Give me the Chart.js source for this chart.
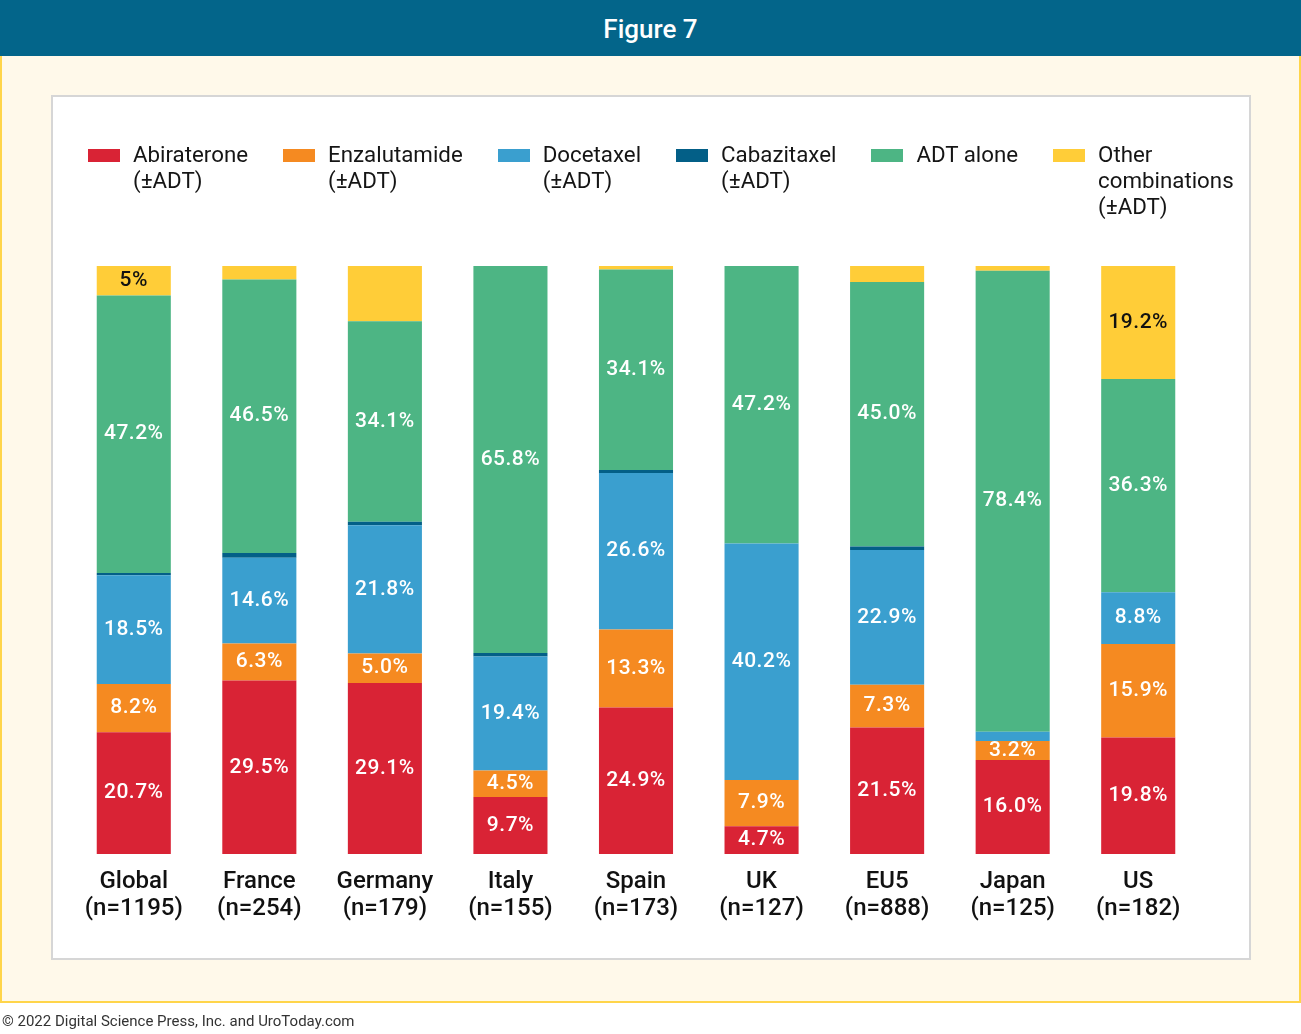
<!DOCTYPE html>
<html>
<head>
<meta charset="utf-8">
<script src="https://cdn.jsdelivr.net/npm/chart.js@4.4.1/dist/chart.umd.min.js"></script>
<style>
  body { margin: 0; width: 1301px; height: 1034px; position: relative; overflow: hidden; background: #fff; font-family: Roboto, sans-serif; }
  #header { position: absolute; left: 0; top: 0; width: 1301px; height: 56px; background: #03658a; color: #fff; font-size: 26px; font-weight: 500; text-align: center; line-height: 58px; }
  #frame { position: absolute; left: 0; top: 56px; width: 1297px; height: 945px; background: #fff9ea; border: 2px solid #ffd54a; border-top: none; }
  #panel { position: absolute; left: 51px; top: 95px; width: 1196px; height: 861px; background: #fff; border: 2px solid #d6d6d6; }
  #chart { position: absolute; left: 0; top: 0; }
  #legend { position: absolute; left: 88px; top: 141px; display: flex; gap: 35px; font-size: 22.3px; line-height: 26px; color: #151515; }
  .item { display: flex; align-items: flex-start; }
  .swatch { width: 32px; height: 13px; margin-top: 8px; margin-right: 13px; }
  #footer { position: absolute; left: 2px; top: 1012px; font-size: 15px; color: #333; }
</style>
</head>
<body>
<div id="header">Figure 7</div>
<div id="frame"></div>
<div id="panel"></div>
<canvas id="chart" width="1301" height="1034"></canvas>
<div id="legend"></div>
<div id="footer">© 2022 Digital Science Press, Inc. and UroToday.com</div>

<script>
// Treatment share (%) by region, bottom to top of each stack
const categories = [
  ["Global", "(n=1195)"],
  ["France", "(n=254)"],
  ["Germany", "(n=179)"],
  ["Italy", "(n=155)"],
  ["Spain", "(n=173)"],
  ["UK", "(n=127)"],
  ["EU5", "(n=888)"],
  ["Japan", "(n=125)"],
  ["US", "(n=182)"]
]

const abiraterone  = [20.7, 29.5, 29.1,  9.7, 24.9,  4.7, 21.5, 16.0, 19.8]
const enzalutamide = [ 8.2,  6.3,  5.0,  4.5, 13.3,  7.9,  7.3,  3.2, 15.9]
const docetaxel    = [18.5, 14.6, 21.8, 19.4, 26.6, 40.2, 22.9,  1.6,  8.8]
const cabazitaxel  = [ 0.4,  0.8,  0.6,  0.6,  0.5,  0.0,  0.6,  0.0,  0.0]
const adtAlone     = [47.2, 46.5, 34.1, 65.8, 34.1, 47.2, 45.0, 78.4, 36.3]
const other        = [ 5.0,  2.3,  9.4,  0.0,  0.6,  0.0,  2.7,  0.8, 19.2]

// only the labelled "other" segments in the figure
const otherLabels = ["5%", null, null, null, null, null, null, null, "19.2%"]

const series = [
  { name: ["Abiraterone", "(±ADT)"], data: abiraterone, color: "#d92335", labelColor: "#fff" },
  { name: ["Enzalutamide", "(±ADT)"], data: enzalutamide, color: "#f58a21", labelColor: "#fff" },
  { name: ["Docetaxel", "(±ADT)"], data: docetaxel, color: "#3a9fcf", labelColor: "#fff" },
  { name: ["Cabazitaxel", "(±ADT)"], data: cabazitaxel, color: "#035f87", labelColor: "#fff", noLabels: true },
  { name: ["ADT alone"], data: adtAlone, color: "#4db584", labelColor: "#fff" },
  { name: ["Other", "combinations", "(±ADT)"], data: other, color: "#ffcd38", labelColor: "#111", labels: otherLabels }
]

function valueLabels(s) {
  if (s.labels) return s.labels
  if (s.noLabels) return s.data.map(() => null)
  return s.data.map(v => (v >= 3 ? v.toFixed(1) + "%" : null))
}

// legend built as html so the names can wrap like the original
const legend = document.getElementById("legend")
series.forEach(s => {
  const item = document.createElement("div")
  item.className = "item"
  const sw = document.createElement("div")
  sw.className = "swatch"
  sw.style.background = s.color
  const txt = document.createElement("div")
  txt.innerHTML = s.name.join("<br>")
  item.appendChild(sw)
  item.appendChild(txt)
  legend.appendChild(item)
})

const segmentLabels = {
  id: "segmentLabels",
  afterDatasetsDraw(chart) {
    const ctx = chart.ctx
    ctx.save()
    ctx.font = "500 21px Roboto"
    ctx.letterSpacing = "0.5px"
    ctx.textAlign = "center"
    ctx.textBaseline = "middle"
    chart.data.datasets.forEach((ds, di) => {
      const meta = chart.getDatasetMeta(di)
      meta.data.forEach((bar, i) => {
        const text = ds.valueLabels[i]
        if (!text) return
        ctx.fillStyle = ds.labelColor
        ctx.fillText(text, bar.x, (bar.y + bar.base) / 2)
      })
    })
    ctx.restore()
  }
}

new Chart(document.getElementById("chart"), {
  type: "bar",
  data: {
    labels: categories,
    datasets: series.map(s => ({
      label: s.name.join(" "),
      data: s.data,
      backgroundColor: s.color,
      borderWidth: 0,
      barPercentage: 0.59,
      categoryPercentage: 1,
      labelColor: s.labelColor,
      valueLabels: valueLabels(s)
    }))
  },
  options: {
    responsive: false,
    animation: false,
    layout: { padding: { left: 71, right: 100, top: 266, bottom: 110 } },
    scales: {
      x: {
        stacked: true,
        grid: { display: false, drawTicks: false },
        border: { display: false },
        ticks: {
          color: "#111",
          padding: 14,
          autoSkip: false,
          maxRotation: 0,
          font: { family: "Roboto", size: 24, weight: "500", lineHeight: 1.125 }
        },
        afterFit: scale => { scale.height = 70 }
      },
      y: {
        stacked: true,
        display: false,
        min: 0,
        max: 100
      }
    },
    plugins: {
      legend: { display: false },
      tooltip: { enabled: false }
    }
  },
  plugins: [segmentLabels]
})
</script>
</body>
</html>
